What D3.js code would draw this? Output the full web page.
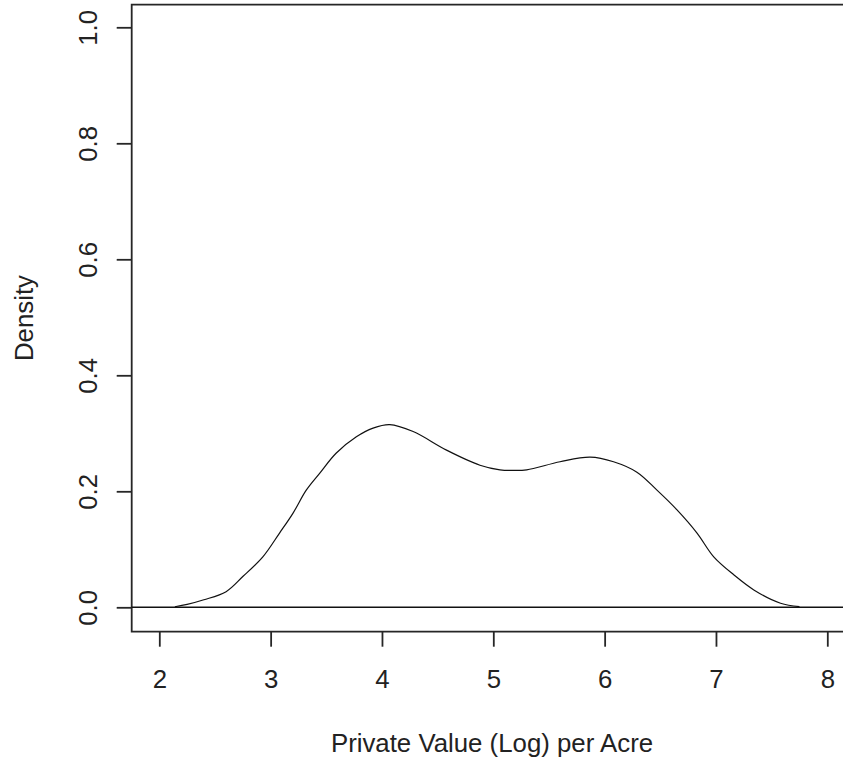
<!DOCTYPE html>
<html>
<head>
<meta charset="utf-8">
<script src="https://cdn.jsdelivr.net/npm/d3@7/dist/d3.min.js"></script>
<style>
  body { margin: 0; background: #fff; }
  svg { display: block; }
  text { font-family: "Liberation Sans", Arial, sans-serif; fill: #222; }
</style>
</head>
<body>
<div id="chart"></div>
<script>
// density estimate
var valueX = [2.14, 2.25, 2.40, 2.60, 2.75, 2.93, 3.08, 3.20, 3.32, 3.44, 3.59, 3.77,
  3.92, 4.07, 4.28, 4.58, 4.88, 5.06, 5.18, 5.30, 5.60, 5.87, 6.08, 6.29, 6.47,
  6.65, 6.83, 6.98, 7.16, 7.34, 7.58, 7.75];
var density = [0.001, 0.005, 0.013, 0.027, 0.053, 0.087, 0.128, 0.162, 0.202, 0.231,
  0.266, 0.294, 0.309, 0.315, 0.303, 0.271, 0.245, 0.237, 0.236, 0.237, 0.251,
  0.259, 0.251, 0.233, 0.202, 0.168, 0.128, 0.087, 0.056, 0.030, 0.007, 0.001];
var xTicks = [2, 3, 4, 5, 6, 7, 8];
var yTicks = [0, 0.2, 0.4, 0.6, 0.8, 1.0];
var xTitle = 'Private Value (Log) per Acre';
var yTitle = 'Density';

var model = {
  width: 843,
  height: 759,
  fontSize: 25.8,
  tickSize: 15,
  box: { left: 131.7, top: 4.7, bottom: 631.7 },
};

draw(model);

function draw(model) {
  var svg = d3.select('#chart').append('svg')
    .attr('width', model.width)
    .attr('height', model.height);

  var x = d3.scaleLinear().domain([2, 8]).range([159.3, 827.3]);
  var y = d3.scaleLinear().domain([0, 1]).range([607.3, 27.3]);

  // plot box (right side falls outside the picture)
  svg.append('path')
    .attr('fill', 'none')
    .attr('stroke', '#262626')
    .attr('stroke-width', 1.8)
    .attr('d', 'M' + (model.width + 10) + ',' + model.box.top +
      'H' + model.box.left + 'V' + model.box.bottom + 'H' + (model.width + 10));

  // bottom axis
  var gx = svg.append('g')
    .attr('transform', 'translate(0,' + model.box.bottom + ')')
    .call(d3.axisBottom(x).tickValues(xTicks).tickSize(model.tickSize).tickFormat(d3.format('d')));
  gx.select('.domain').remove();
  gx.selectAll('line').attr('stroke', '#262626').attr('stroke-width', 1.8);
  gx.selectAll('text')
    .attr('y', 56.5)
    .attr('dy', null)
    .attr('font-size', model.fontSize)
    .attr('fill', '#222');

  // left axis with rotated labels
  var gy = svg.append('g')
    .attr('transform', 'translate(' + model.box.left + ',0)')
    .call(d3.axisLeft(y).tickValues(yTicks).tickSize(model.tickSize).tickFormat(d3.format('.1f')));
  gy.select('.domain').remove();
  gy.selectAll('line').attr('stroke', '#262626').attr('stroke-width', 1.8);
  gy.selectAll('text')
    .attr('x', null)
    .attr('dy', null)
    .attr('text-anchor', 'middle')
    .attr('transform', 'translate(-34.5,0) rotate(-90)')
    .attr('font-size', model.fontSize)
    .attr('fill', '#222');

  // abline at zero
  svg.append('line')
    .attr('x1', model.box.left)
    .attr('x2', model.width)
    .attr('y1', y(0))
    .attr('y2', y(0))
    .attr('stroke', '#111')
    .attr('stroke-width', 1.5);

  // density curve
  var pts = valueX.map(function (v, i) { return [v, density[i]]; });
  var line = d3.line()
    .x(function (d) { return x(d[0]); })
    .y(function (d) { return y(d[1]); })
    .curve(d3.curveCatmullRom.alpha(0.5));
  svg.append('path')
    .datum(pts)
    .attr('fill', 'none')
    .attr('stroke', '#111')
    .attr('stroke-width', 1.2)
    .attr('d', line);

  // titles
  svg.append('text')
    .attr('x', 492)
    .attr('y', 752)
    .attr('text-anchor', 'middle')
    .attr('font-size', model.fontSize)
    .text(xTitle);
  svg.append('text')
    .attr('transform', 'translate(33,318) rotate(-90)')
    .attr('text-anchor', 'middle')
    .attr('font-size', model.fontSize)
    .text(yTitle);
}
</script>
</body>
</html>
